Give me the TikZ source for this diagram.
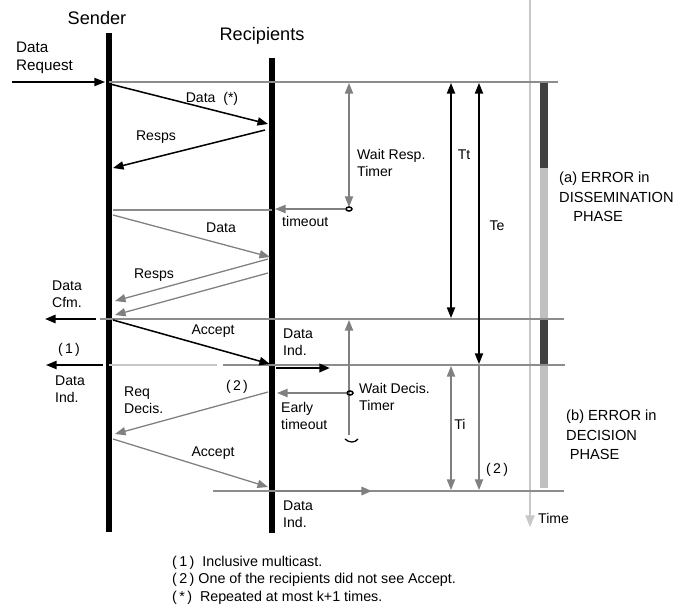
\documentclass[tikz,border=0pt]{standalone}
\usepackage{fontspec}
\setmainfont{Liberation Sans}
\usetikzlibrary{positioning, arrows.meta}
\definecolor{msggray}{RGB}{128,128,128}
\definecolor{rulegray}{RGB}{140,140,140}
\definecolor{timegray}{RGB}{200,200,200}
\definecolor{bardark}{RGB}{64,64,64}
\definecolor{barlight}{RGB}{192,192,192}

\begin{document}
\begin{tikzpicture}[
  x=0.03cm, y=-0.03cm,
  lifeline/.style={line width=4.3pt},
  rule/.style={draw=rulegray, line width=1pt},
  msg/.style={-{Triangle[length=9pt,width=7pt]}, line width=1.3pt},
  gmsg/.style={msg, color=msggray, line width=1.1pt},
  span/.style={{Triangle[length=9pt,width=7pt]}-{Triangle[length=9pt,width=7pt]}, line width=1pt},
  gspan/.style={span, color=msggray},
  lbl/.style={font=\fontsize{12}{14.5}\selectfont, align=left, inner sep=0pt},
  head/.style={font=\fontsize{15.5}{18}\selectfont, inner sep=0pt},
  phase/.style={font=\fontsize{12.5}{16.5}\selectfont, align=left, inner sep=0pt, anchor=west},
  note/.style={font=\fontsize{12.2}{15}\selectfont, align=left, inner sep=0pt, anchor=west},
  timer/.style={draw=black, line width=1.3pt}
]
\useasboundingbox (0,0) rectangle (677,613);

% lifelines and time axis
\coordinate (s0) at (109,33);
\coordinate (s1) at (109,532);
\coordinate (r0) at (272,58);
\coordinate (r1) at (272,533);
\coordinate (t0) at (530,0);
\coordinate (t1) at (530,527);

\node[head] (sender) at (97,18) {Sender};
\node[head] (recip) at (262,36) {Recipients};

\draw[lifeline] (s0) -- (s1);
\draw[lifeline] (r0) -- (r1);
\draw[-{Triangle[length=10pt,width=8pt]}, color=timegray, line width=1pt] (t0) -- (t1);
\node[lbl, anchor=west] (time) at (538,518) {Time};

% phase bar
\fill[bardark] (540,82) rectangle (548,168);
\fill[barlight] (540,168) rectangle (548,319);
\fill[bardark] (540,319) rectangle (548,365);
\fill[barlight] (540,365) rectangle (548,488);

% horizontal rules
\draw[rule] (109,82) -- (558,82);
\draw[rule] (113,210) -- (272,210);
\draw[rule] (100,319) -- (564,319);
\draw[rule, draw=timegray] (109,365) -- (217,365);
\draw[rule] (223,365) -- (565,365);
\draw[rule] (213,491) -- (564,491);

% dissemination phase
\coordinate (req0) at (12,82);
\coordinate (req1) at (105,82);
\coordinate (d0) at (110,84);
\coordinate (d1) at (268,124);
\coordinate (rs0) at (265,130);
\coordinate (rs1) at (113,168);
\coordinate (wr0) at (349,83);
\coordinate (wr1) at (349,207);
\coordinate (wrc) at (349,209);
\coordinate (to0) at (345,209);
\coordinate (to1) at (275,209);
\coordinate (gd0) at (113,215);
\coordinate (gd1) at (270,257);
\coordinate (gr0) at (268,259);
\coordinate (gr1) at (115,301);
\coordinate (gq0) at (268,273);
\coordinate (gq1) at (115,315);
\coordinate (tt0) at (451,83);
\coordinate (tt1) at (451,318);
\coordinate (te0) at (479,83);
\coordinate (te1) at (479,364);

\draw[msg, line width=1pt] (req0) -- (req1);
\draw[msg] (d0) -- (d1);
\draw[msg] (rs0) -- (rs1);
\draw[gspan] (wr0) -- (wr1);
\draw[timer] (wrc) ellipse (3 and 2);
\draw[gmsg] (to0) -- (to1);
\draw[gmsg] (gd0) -- (gd1);
\draw[gmsg] (gr0) -- (gr1);
\draw[gmsg] (gq0) -- (gq1);
\draw[span] (tt0) -- (tt1);
\draw[span] (te0) -- (te1);

\node[lbl, anchor=west, font=\fontsize{13}{15}\selectfont] (dreq) at (16,58) {Data\\Request};
\node[lbl] (ldata) at (212,99) {Data\ \ (*)};
\node[lbl] (lresps) at (156,137) {Resps};
\node[lbl, anchor=west] (wresp) at (357,163) {Wait Resp.\\Timer};
\node[lbl, anchor=west] (ltout) at (282,221) {timeout};
\node[lbl] (ltt) at (464,155) {Tt};
\node[lbl] (lte) at (497,226) {Te};
\node[lbl] (gdata) at (221,228) {Data};
\node[lbl] (gresps) at (154,275) {Resps};
\node[phase] (pha) at (559,197) {(a) ERROR in\\DISSEMINATION\\\hspace*{12pt}PHASE};

% decision phase
\coordinate (cf0) at (96,319);
\coordinate (cf1) at (45,319);
\coordinate (ac0) at (113,320);
\coordinate (ac1) at (270,364);
\coordinate (il0) at (103,365);
\coordinate (il1) at (46,365);
\coordinate (ir0) at (276,368);
\coordinate (ir1) at (330,368);
\coordinate (wd0) at (349,320);
\coordinate (wd1) at (349,435);
\coordinate (wdc) at (350,393);
\coordinate (et0) at (346,393);
\coordinate (et1) at (277,393);
\coordinate (rd0) at (268,392);
\coordinate (rd1) at (115,434);
\coordinate (ga0) at (113,439);
\coordinate (ga1) at (268,487);
\coordinate (ib0) at (276,491);
\coordinate (ib1) at (372,491);
\coordinate (ti0) at (451,366);
\coordinate (ti1) at (451,490);
\coordinate (tg0) at (479,366);
\coordinate (tg1) at (479,490);

\draw[msg, line width=1.8pt] (cf0) -- (cf1);
\draw[msg] (ac0) -- (ac1);
\draw[msg, line width=1.3pt] (il0) -- (il1);
\draw[msg, line width=2.2pt] (ir0) -- (ir1);
\draw[gmsg, -{Triangle[length=9pt,width=7pt]}] (wd1) -- (wd0);
\draw[timer] (wdc) ellipse (3 and 2);
\draw[line width=1.1pt] (345,439) .. controls (349,443) and (355,443) .. (358,439);
\draw[gmsg] (et0) -- (et1);
\draw[gmsg] (rd0) -- (rd1);
\draw[gmsg] (ga0) -- (ga1);
\draw[gmsg, line width=2pt] (ib0) -- (ib1);
\draw[gspan] (ti0) -- (ti1);
\draw[gmsg, line width=1pt] (tg0) -- (tg1);

\node[lbl, align=left] (lcfm) at (67,294) {Data\\Cfm.};
\node[lbl] (laccept) at (213,331) {Accept};
\node[lbl, anchor=west] (lindr) at (283,342) {Data\\Ind.};
\node[lbl] (lone) at (69,350) {(\,1\,)};
\node[lbl] (lindl) at (70,389) {Data\\Ind.};
\node[lbl, anchor=west] (lreq) at (124,400) {Req\\Decis.};
\node[lbl] (ltwo) at (237,387) {(\,2\,)};
\node[lbl, anchor=west] (wdec) at (359,397) {Wait Decis.\\Timer};
\node[lbl, anchor=west] (learly) at (281,416) {Early\\timeout};
\node[lbl] (lti) at (460,424) {Ti};
\node[lbl] (ltwob) at (497,470) {(\,2\,)};
\node[lbl] (gaccept) at (213,453) {Accept};
\node[lbl, anchor=west] (lindb) at (283,514) {Data\\Ind.};
\node[phase] (phb) at (566,435) {(b) ERROR in\\DECISION\\\hspace*{3pt}PHASE};

% footnotes
\node[note] (notes) at (172,580) {(\,1\,)\ \ Inclusive multicast.\\(\,2\,) One of the recipients did not see Accept.\\(\,*\,)\ \ Repeated at most k+1 times.};

\end{tikzpicture}
\end{document}
